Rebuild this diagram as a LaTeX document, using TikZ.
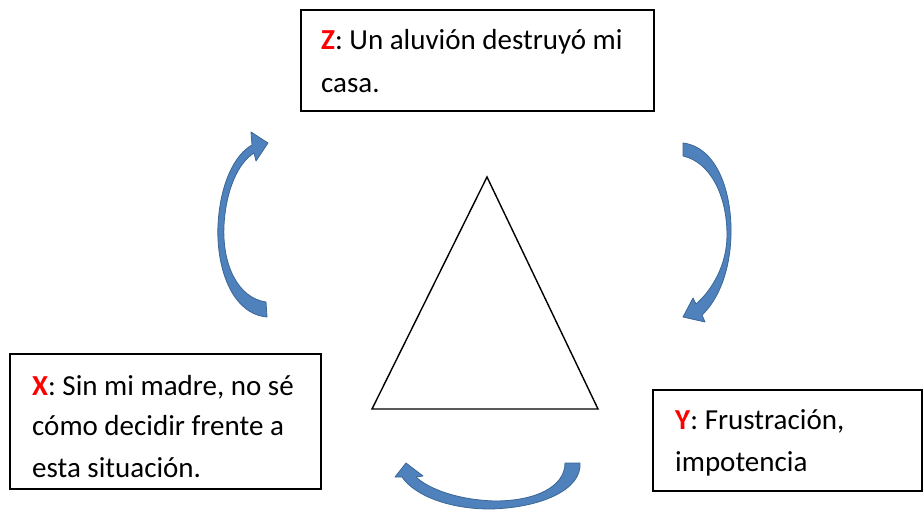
\documentclass[tikz,border=0pt]{standalone}
\usepackage{fontspec}
\setmainfont{Carlito}
\definecolor{arrowfill}{HTML}{4F81BD}
\definecolor{arrowline}{HTML}{3A6796}
\definecolor{keyred}{HTML}{FF0000}
\tikzset{
  box/.style={draw=black, line width=1.3pt},
  txt/.style={anchor=base west, inner sep=0pt, font=\fontsize{29}{40}\selectfont},
  blockarrow/.style={fill=arrowfill, draw=arrowline, line width=0.8pt, line join=round},
  tri/.style={draw=black, line width=1.4pt, line join=miter}
}
\newcommand{\key}[1]{\textcolor{keyred}{\textbf{#1}}}
\begin{document}
\begin{tikzpicture}[x=1pt,y=-1pt]
\useasboundingbox (0,0) rectangle (923,510);
% boxes
\draw[box] (301,10) rectangle (654,111);
\node[txt] (z1) at (321,50) {\key{Z}: Un aluvión destruyó mi};
\node[txt] (z2) at (321,93) {casa.};
\draw[box] (10,354) rectangle (321,489);
\node[txt] (x1) at (32,395) {\key{X}: Sin mi madre, no sé};
\node[txt] (x2) at (32,435) {cómo decidir frente a};
\node[txt] (x3) at (32,477) {esta situación.};
\draw[box] (653,390) rectangle (922,491);
\node[txt] (y1) at (675,429) {\key{Y}: Frustración,};
\node[txt] (y2) at (675,471) {impotencia};
% triangle
\coordinate (ta) at (487,177);
\coordinate (tb) at (372,409);
\coordinate (tc) at (598,409);
\draw[tri] (ta) -- (tb) -- (tc) -- cycle;
% left curved arrow
\path[blockarrow] (267,317) .. controls (232,314) and (216,268) .. (218,225)
  .. controls (220,185) and (234,155) .. (252,145) -- (251,132) -- (268,143)
  -- (256,161) -- (254,153) .. controls (238,163) and (226,190) .. (224,225)
  .. controls (222,265) and (238,298) .. (266,302) -- cycle;
% right curved arrow
\path[blockarrow] (683,143) .. controls (716,147) and (732,190) .. (731,235)
  .. controls (730,272) and (718,300) .. (702,315) -- (705,322) -- (683,317)
  -- (693,298) -- (696,304) .. controls (712,290) and (727,265) .. (727,235)
  .. controls (727,195) and (710,162) .. (683,156) -- cycle;
% bottom curved arrow
\path[blockarrow] (580,463) .. controls (582,490) and (540,508) .. (490,509)
  .. controls (450,509) and (415,496) .. (402,477) -- (395,477) -- (406,463)
  -- (423,476) -- (416,477) .. controls (430,490) and (460,500) .. (495,501)
  .. controls (535,501) and (565,487) .. (565,463) -- cycle;
\end{tikzpicture}
\end{document}
